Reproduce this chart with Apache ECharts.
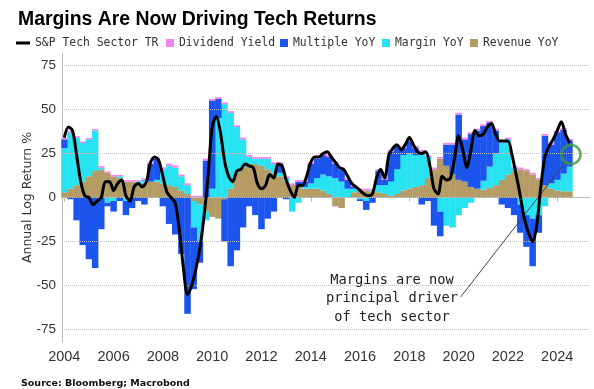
<!DOCTYPE html>
<html><head><meta charset="utf-8">
<script src="https://cdn.jsdelivr.net/npm/echarts@6/dist/echarts.min.js"></script>
<style>html,body{margin:0;padding:0;background:#fff}#c{width:594px;height:389px}</style>
</head><body><div id="c"></div>
<script>
// Quarterly components (2004Q1 .. 2024Q3), annual log return %
const revenue = [
  3,5,7,9, 12,15,16,14, 12,11,9,9, 8,8,9,9, 8,7,6,4, 2,-2,-4,-8, -11,-12,-1,5,
  14,17,19,19, 18,16,14,12, 9,7,6,5, 5,5,4,2, -5,-6,0,3, 4,4,3,3, 2,1,2,4,
  5,6,7,11, 16,22,18,13, 10,9,6,5, 4.5,5.5,7,10, 13,15,16,15, 13,10,7,5, 4,3.5,3.5];
const margin = [
  25,32,27,22, 21,23,1,-3, -2,1,-2,0, 1,2,0,1, 8,11,11,8, 5,-15,-21,-5, 5,45,53,43,
  26,16,4,3, 4,6,5,2, 2,-8,-3,1, 3,6,9,10, 11,9,5,2, -1,-2,1,4, 5,8,14,20,
  20,18,19,12, 0,-8,-16,-17, -10,-6,-3,0, 5,12,18,21, 20,2,-4,-10, -12,-10,-5,3, 6,10,14];
const multiple = [
  5,-1,-13,-27, -35,-40,-18,-2, -6,-2,-8,-6, -2,-4,10,12, -5,-15,-21,-32, -66,-35,-12,21, 50,11,-24,-39,
  -30,-17,-5,-10, -18,-12,-8,5, -1,0,3,3, 11,11,11,11, 8,7,5,1, -1,-5,-3,8, 3,17,13,4,
  7,4,-4,-2, -16,-14,12,17, 37,24,30,33, 31,25,13,-4, -6,-10,-16,-18, -27,-10,28,22, 27,25,15];
const dividend = [
  0.8,0.8,0.8,0.8, 0.8,0.8,0.8,0.8, 0.8,0.8,0.8,0.8, 0.8,0.8,0.8,0.8, 1,1.2,1.2,1, 1,1,1,1, 1,1,1,1,
  1,1,1,1, 1,1,1,1, 1,1,1,1, 1,1.2,1.2,1.2, 1,1,1,1, 1,1,1,1, 1,1,1,1,
  1.2,1.2,1,1, 1,1,1,1, 1,1,1,1, 1,1,1,1, 1,1,1,1, 1,1,1,1, 0.8,0.8,0.8];
// S&P Tech Sector TR, every two months from Jan 2004
const techTR = [
  34,40,38,24,9,1, 0,-4,-2,0,9,9, 4,8,10,1,-2,6, 8,6,9,20,23,21, 12,3,0,-3,-18,-40,
  -55,-50,-41,-29,-11,12, 40,46,37,21,12,9, 15,16,19,18,17,8, 5,7,13,11,19,18,
  10,4,0,7,7,12, 20,23,23,25,26,23, 20,17,16,12,8,6, 4,2,1,2,11,16, 11,24,28,30,27,30,
  34,30,26,25,26,18, 5,2,12,10,11,22, 35,27,17,27,38,35, 36,40,42,36,32,32,
  32,24,13,1,-12,-20, -25,-16,6,23,29,33, 38,43,36,31];
const yTicks = [-75,-50,-25,0,25,50,75];
const xTicks = [2004,2006,2008,2010,2012,2014,2016,2018,2020,2022,2024];
const highlight = [2024.56, 24.4];
const pointerLine = [[2020.08,-56.5],[2024.33,20]];

const quarterLabels = revenue.map((_, i) => (2004 + Math.floor(i / 4)) + 'Q' + (i % 4 + 1));
const bimonths = techTR.map((_, k) => 2004 + k / 6);

const C = {tr:'#000000', div:'#f284f0', mult:'#1b55ee', marg:'#27e3f2', rev:'#b49c64'};
const monoFont = "'DejaVu Sans Mono', monospace";

// plot geometry: 2004.0 at x=64.3, 24.65 px per year
const X0 = 2003.907, X1 = 2025.33;
const pxPerYear = 24.65, px2004 = 64.3;
const barLeft = px2004 - 0.125 * pxPerYear;
const barRight = px2004 + ((revenue.length - 0.5) * 0.25) * pxPerYear;

const chart = echarts.init(document.getElementById('c'), null, {renderer:'canvas'});
const barBase = {type:'bar', stack:'total', xAxisIndex:1, yAxisIndex:1, barCategoryGap:'0%', barWidth:'106%', z:2, silent:true};
const legendBase = {top:36, padding:0, itemGap:0, textStyle:{fontFamily:monoFont, fontSize:11.4, color:'#333', lineHeight:14}, selectedMode:false};

chart.setOption({
  animation:false,
  backgroundColor:'#fff',
  title:[
    {text:'Margins Are Now Driving Tech Returns', left:13, top:5,
     textStyle:{fontFamily:'Liberation Sans', fontWeight:'bold', fontSize:19.4, color:'#000'}},
    {text:'Source: Bloomberg; Macrobond', left:16, top:374,
     textStyle:{fontFamily:'DejaVu Sans', fontWeight:'bold', fontSize:9.5, color:'#111'}}
  ],
  legend:[
    Object.assign({}, legendBase, {left:16, data:['S&P Tech Sector TR'], icon:'rect', itemWidth:14, itemHeight:3}),
    Object.assign({}, legendBase, {left:166, data:['Dividend Yield'], icon:'rect', itemWidth:8, itemHeight:8}),
    Object.assign({}, legendBase, {left:280, data:['Multiple YoY'], icon:'rect', itemWidth:8, itemHeight:8}),
    Object.assign({}, legendBase, {left:382, data:['Margin YoY'], icon:'rect', itemWidth:8, itemHeight:8}),
    Object.assign({}, legendBase, {left:470, data:['Revenue YoY'], icon:'rect', itemWidth:8, itemHeight:8})
  ],
  grid:[
    {left:62, right:4, top:53, bottom:47, containLabel:false},
    {left:barLeft, right:594 - barRight, top:53, bottom:47, containLabel:false}
  ],
  xAxis:[
    {type:'value', gridIndex:0, min:X0, max:X1,
     axisLine:{show:true, lineStyle:{color:'#b8b8b8'}},
     axisTick:{show:true, customValues:xTicks, length:4, lineStyle:{color:'#b8b8b8'}},
     axisLabel:{customValues:xTicks, formatter:v=>String(v), fontFamily:'Liberation Sans', fontSize:14.5, color:'#333', margin:7},
     splitLine:{show:false}},
    {type:'category', gridIndex:1, data:quarterLabels, boundaryGap:true, show:false}
  ],
  yAxis:[
    {type:'value', gridIndex:0, min:-82, max:82,
     axisLine:{show:true, lineStyle:{color:'#b8b8b8'}},
     axisTick:{show:false}, splitLine:{show:false},
     axisLabel:{customValues:yTicks, formatter:v=>String(v), fontFamily:'Liberation Sans', fontSize:13.5, color:'#333', margin:6},
     name:'Annual Log Return %', nameLocation:'middle', nameGap:28, nameRotate:90, nameMoveOverlap:false,
     nameTextStyle:{fontFamily:'DejaVu Sans', fontSize:12.5, color:'#333'}},
    {type:'value', gridIndex:1, min:-82, max:82, show:false, splitLine:{show:false}}
  ],
  graphic:[
    {type:'text', x:392, y:271, z:10,
     style:{text:'Margins are now\nprincipal driver\nof tech sector', align:'center', verticalAlign:'top',
            font:"13.7px 'DejaVu Sans Mono'", lineHeight:18.5, fill:'#222'}}
  ],
  series:[
    {name:'grid', type:'line', xAxisIndex:0, yAxisIndex:0, data:[], z:1, silent:true,
     markLine:{silent:true, symbol:'none', label:{show:false}, animation:false,
       lineStyle:{type:'dotted', color:'#c2c2c2', width:1},
       data:yTicks.map(v=>({yAxis:v}))}},
    Object.assign({}, barBase, {name:'Revenue YoY', color:C.rev, data:revenue}),
    Object.assign({}, barBase, {name:'Margin YoY', color:C.marg, data:margin}),
    Object.assign({}, barBase, {name:'Multiple YoY', color:C.mult, data:multiple}),
    Object.assign({}, barBase, {name:'Dividend Yield', color:C.div, data:dividend}),
    {name:'S&P Tech Sector TR', type:'line', xAxisIndex:0, yAxisIndex:0, color:C.tr, z:5, silent:true, symbol:'none', smooth:0.3,
     lineStyle:{color:C.tr, width:3}, data:bimonths.map((t, k) => [t, techTR[k]])},
    {name:'highlight', type:'scatter', xAxisIndex:0, yAxisIndex:0, z:6, silent:true, symbol:'circle', symbolSize:19,
     itemStyle:{color:'rgba(0,0,0,0)', borderColor:'#3d9b36', borderWidth:2.6},
     data:[highlight],
     markLine:{silent:true, symbol:['none','none'], label:{show:false}, animation:false,
       lineStyle:{color:'#444', width:1, type:'solid'},
       data:[[{coord:pointerLine[0]},{coord:pointerLine[1]}]]}}
  ]
});
</script></body></html>
